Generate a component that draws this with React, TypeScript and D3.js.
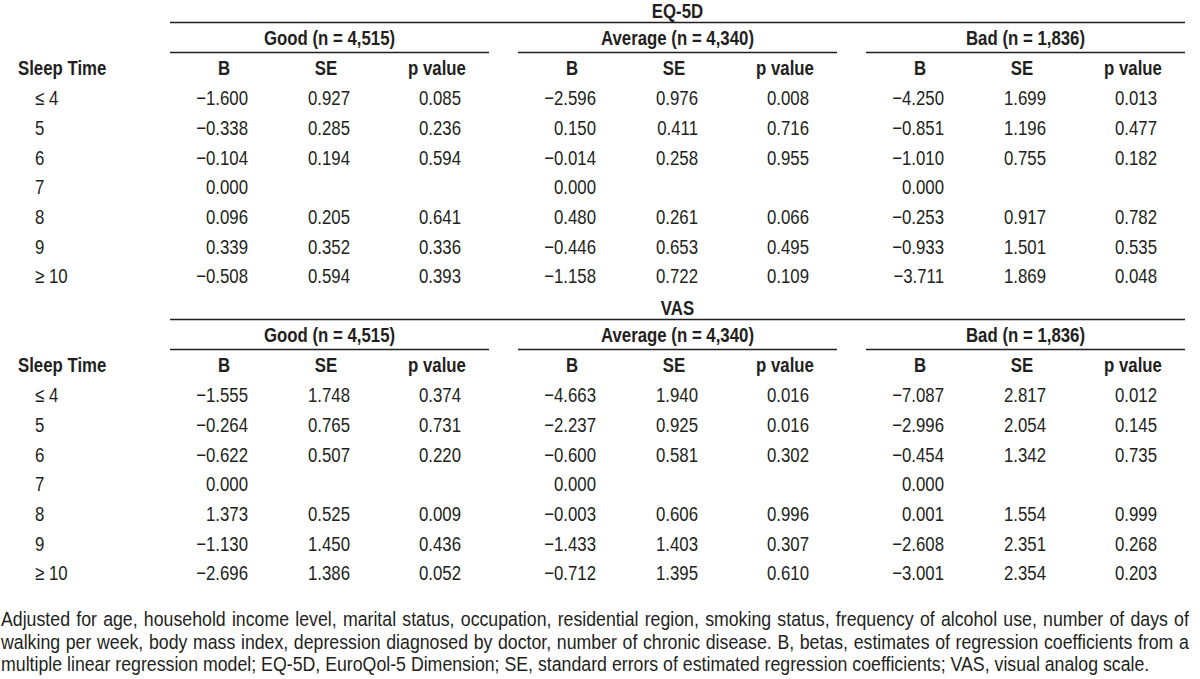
import React from "react";
import * as d3 from "d3";

const sleepTimes = ["≤ 4", "5", "6", "7", "8", "9", "≥ 10"];
const groups = ["Good (n = 4,515)", "Average (n = 4,340)", "Bad (n = 1,836)"];
const columns = ["B", "SE", "p value"];
const sections = ["EQ-5D", "VAS"];

// EQ-5D
const eqGoodB = [-1.6, -0.338, -0.104, 0.0, 0.096, 0.339, -0.508];
const eqGoodSE = [0.927, 0.285, 0.194, null, 0.205, 0.352, 0.594];
const eqGoodP = [0.085, 0.236, 0.594, null, 0.641, 0.336, 0.393];
const eqAvgB = [-2.596, 0.15, -0.014, 0.0, 0.48, -0.446, -1.158];
const eqAvgSE = [0.976, 0.411, 0.258, null, 0.261, 0.653, 0.722];
const eqAvgP = [0.008, 0.716, 0.955, null, 0.066, 0.495, 0.109];
const eqBadB = [-4.25, -0.851, -1.01, 0.0, -0.253, -0.933, -3.711];
const eqBadSE = [1.699, 1.196, 0.755, null, 0.917, 1.501, 1.869];
const eqBadP = [0.013, 0.477, 0.182, null, 0.782, 0.535, 0.048];

// VAS
const vasGoodB = [-1.555, -0.264, -0.622, 0.0, 1.373, -1.13, -2.696];
const vasGoodSE = [1.748, 0.765, 0.507, null, 0.525, 1.45, 1.386];
const vasGoodP = [0.374, 0.731, 0.22, null, 0.009, 0.436, 0.052];
const vasAvgB = [-4.663, -2.237, -0.6, 0.0, -0.003, -1.433, -0.712];
const vasAvgSE = [1.94, 0.925, 0.581, null, 0.606, 1.403, 1.395];
const vasAvgP = [0.016, 0.016, 0.302, null, 0.996, 0.307, 0.61];
const vasBadB = [-7.087, -2.996, -0.454, 0.0, 0.001, -2.608, -3.001];
const vasBadSE = [2.817, 2.054, 1.342, null, 1.554, 2.351, 2.354];
const vasBadP = [0.012, 0.145, 0.735, null, 0.999, 0.268, 0.203];

const footnoteLines = [
  "Adjusted for age, household income level, marital status, occupation, residential region, smoking status, frequency of alcohol use, number of days of",
  "walking per week, body mass index, depression diagnosed by doctor, number of chronic disease. B, betas, estimates of regression coefficients from a",
  "multiple linear regression model; EQ-5D, EuroQol-5 Dimension; SE, standard errors of estimated regression coefficients; VAS, visual analog scale.",
];

const tableData = [
  [
    [eqGoodB, eqGoodSE, eqGoodP],
    [eqAvgB, eqAvgSE, eqAvgP],
    [eqBadB, eqBadSE, eqBadP],
  ],
  [
    [vasGoodB, vasGoodSE, vasGoodP],
    [vasAvgB, vasAvgSE, vasAvgP],
    [vasBadB, vasBadSE, vasBadP],
  ],
];

const W = 1200;
const H = 679;
const INK = "#231f20";
const FONT = "'Liberation Sans', Arial, sans-serif";
const NARROW = 0.82;
const TABLE_SIZE = 20.5;
const FOOT_SIZE = 19.5;
const FOOT_SX = 0.91;

const fmt = d3.format(".3f");
const fmtVal = (v: number | null) => (v === null ? "" : fmt(v).replace("-", "−"));

let measureCtx: CanvasRenderingContext2D | null = null;
function measure(text: string, size: number) {
  if (typeof document === "undefined") return 0;
  if (!measureCtx) measureCtx = document.createElement("canvas").getContext("2d");
  if (!measureCtx) return 0;
  measureCtx.font = `${size}px ${FONT}`;
  return measureCtx.measureText(text).width;
}

type TProps = {
  x: number;
  y: number;
  anchor?: "start" | "middle" | "end";
  bold?: boolean;
  size?: number;
  sx?: number;
  dy?: string;
  children: React.ReactNode;
  wordSpacing?: number;
};

function T({ x, y, anchor = "start", bold = false, size = TABLE_SIZE, sx = NARROW, dy = "0.36em", children, wordSpacing }: TProps) {
  return (
    <text
      transform={`translate(${x},${y}) scale(${sx},1)`}
      dy={dy}
      textAnchor={anchor}
      fontWeight={bold ? "bold" : "normal"}
      fontSize={size}
      style={wordSpacing ? { wordSpacing: `${wordSpacing}px` } : undefined}
    >
      {children}
    </text>
  );
}

export default function App() {
  const groupScale = d3
    .scaleBand<string>()
    .domain(groups)
    .range([170, 1185])
    .paddingInner(0.0833);
  const colOffset = d3.scaleOrdinal<string, number>().domain(columns).range([54, 156, 267]);
  const sectionOffset = d3.scaleBand<string>().domain(sections).range([0, 594]);
  const rowY = d3.scaleLinear().domain([0, sleepTimes.length - 1]).range([97.7, 276]);
  const footY = d3.scaleLinear().domain([0, footnoteLines.length - 1]).range([626, 671]);

  const footTarget = 1189 / FOOT_SX;

  return (
    <svg
      width={W}
      height={H}
      viewBox={`0 0 ${W} ${H}`}
      style={{ position: "absolute", left: 0, top: 0, background: "#fff" }}
      fontFamily={FONT}
      fill={INK}
    >
      <rect x={0} y={0} width={W} height={H} fill="#fff" />
      {sections.map((sec, si) => {
        const oy = sectionOffset(sec) as number;
        const x0 = groupScale.range()[0];
        const x1 = (groupScale(groups[groups.length - 1]) as number) + groupScale.bandwidth();
        return (
          <g key={sec} transform={`translate(0,${oy})`}>
            <T x={(x0 + x1) / 2} y={10.5} anchor="middle" bold>
              {sec}
            </T>
            <line x1={x0} x2={x1} y1={22.5} y2={22.5} stroke={INK} strokeWidth={1.5} />
            <T x={18} y={68} bold>
              Sleep Time
            </T>
            {sleepTimes.map((s, ri) => (
              <T key={s} x={35} y={rowY(ri)}>
                {s}
              </T>
            ))}
            {groups.map((g, gi) => {
              const gx = groupScale(g) as number;
              const bw = groupScale.bandwidth();
              return (
                <g key={g}>
                  <T x={gx + bw / 2} y={38} anchor="middle" bold>
                    {g}
                  </T>
                  <line x1={gx} x2={gx + bw} y1={52.5} y2={52.5} stroke={INK} strokeWidth={1.5} />
                  {columns.map((c, ci) => {
                    const cx = gx + colOffset(c);
                    const vals = tableData[si][gi][ci];
                    return (
                      <g key={c}>
                        <T x={cx} y={68} anchor="middle" bold>
                          {c}
                        </T>
                        {vals.map((v, ri) => (
                          <T key={ri} x={cx + 24} y={rowY(ri)} anchor="end">
                            {fmtVal(v)}
                          </T>
                        ))}
                      </g>
                    );
                  })}
                </g>
              );
            })}
          </g>
        );
      })}
      {footnoteLines.map((t, i) => {
        let ws: number | undefined = undefined;
        if (i < footnoteLines.length - 1) {
          const natural = measure(t, FOOT_SIZE);
          const spaces = (t.match(/ /g) || []).length;
          if (natural > 0 && spaces > 0) ws = Math.max(0, (footTarget - natural) / spaces);
        }
        return (
          <T key={i} x={1} y={footY(i)} dy="0" size={FOOT_SIZE} sx={FOOT_SX} wordSpacing={ws}>
            {t}
          </T>
        );
      })}
    </svg>
  );
}
